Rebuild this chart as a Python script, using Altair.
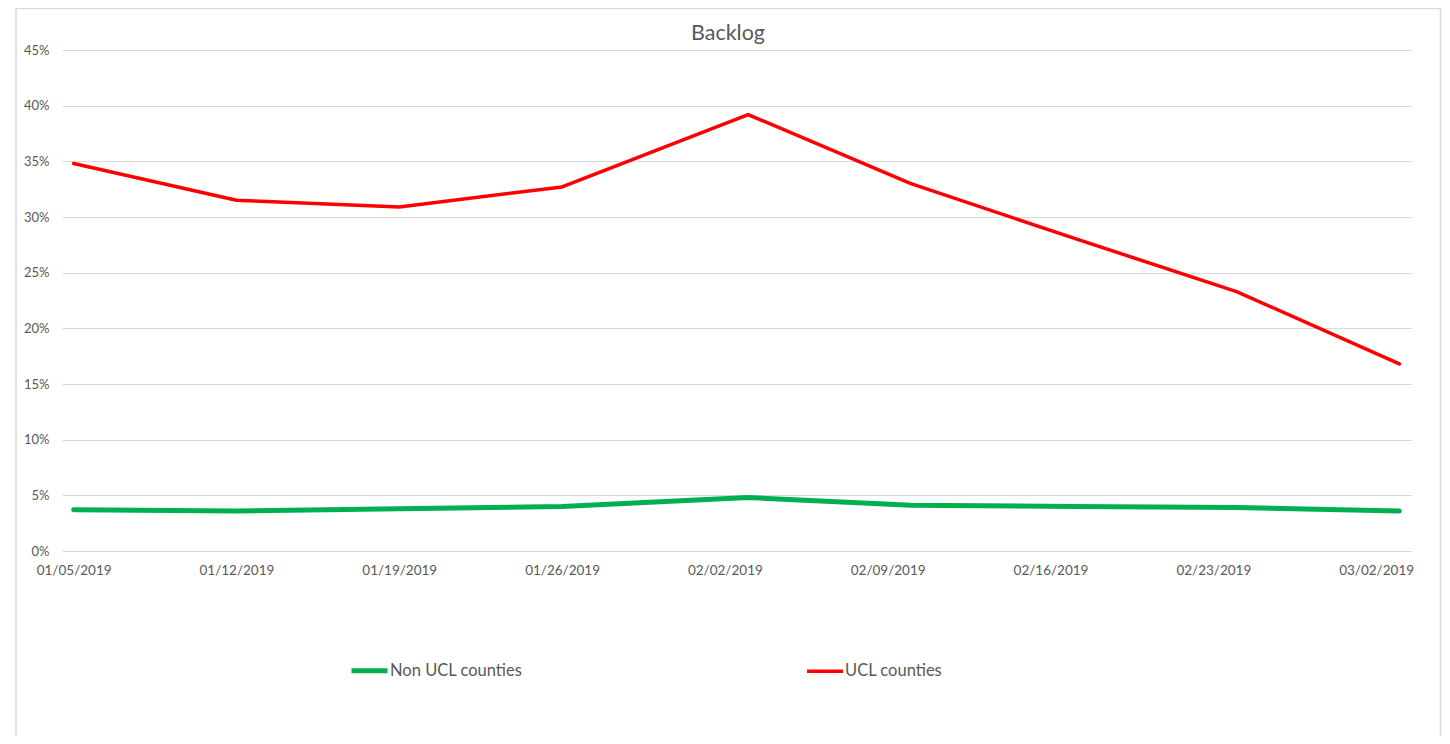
import altair as alt
import pandas as pd

# ---- data ----
dates = ["2019-01-05", "2019-01-12", "2019-01-19", "2019-01-26", "2019-02-03",
         "2019-02-10", "2019-02-17", "2019-02-24", "2019-03-03"]
non_ucl = [3.7, 3.6, 3.8, 4.0, 4.8, 4.1, 4.0, 3.9, 3.6]          # percent
ucl = [34.8, 31.5, 30.9, 32.7, 39.2, 33.0, 28.1, 23.3, 16.8]      # percent
series_names = ["Non UCL counties", "UCL counties"]
series_colors = ["#00B050", "#FF0000"]
series_widths = [5, 3.5]
tick_labels = ["01/05/2019", "01/12/2019", "01/19/2019", "01/26/2019", "02/02/2019",
               "02/09/2019", "02/16/2019", "02/23/2019", "03/02/2019"]
y_ticks = [0, 0.05, 0.10, 0.15, 0.20, 0.25, 0.30, 0.35, 0.40, 0.45]

rows = []
for d, a, b in zip(dates, non_ucl, ucl):
    rows.append({"date": d, "series": series_names[0], "value": a / 100})
    rows.append({"date": d, "series": series_names[1], "value": b / 100})
df = pd.DataFrame(rows)


def to_dt(lbl):
    m, d, y = lbl.split("/")
    return alt.DateTime(year=int(y), month=int(m), date=int(d), utc=True)


tick_values = [to_dt(t) for t in tick_labels]
first = dates[0].split("-")
last = dates[-1].split("-")
x_domain = [
    alt.DateTime(year=int(first[0]), month=int(first[1]), date=int(first[2]) - 1, hours=12, utc=True),
    alt.DateTime(year=int(last[0]), month=int(last[1]), date=int(last[2]), hours=12, utc=True),
]

FONT = "Lato"
GREY = "#595959"

lines = alt.Chart(df).mark_line(strokeCap="round", strokeJoin="round").encode(
    x=alt.X("date:T",
            scale=alt.Scale(type="utc", domain=x_domain),
            axis=alt.Axis(title=None, values=tick_values, format="%m/%d/%Y",
                          grid=False, domain=False, ticks=False,
                          labelPadding=12, labelFontSize=13.5, labelColor=GREY,
                          labelFont=FONT, labelOverlap=False)),
    y=alt.Y("value:Q",
            scale=alt.Scale(domain=[0, 0.45], nice=False),
            axis=alt.Axis(title=None, values=y_ticks, format=".0%",
                          grid=True, gridColor="#D9D9D9", gridWidth=1,
                          domain=False, ticks=False, labelPadding=13,
                          labelFontSize=13, labelColor=GREY, labelFont=FONT)),
    color=alt.Color("series:N",
                    scale=alt.Scale(domain=series_names, range=series_colors),
                    legend=alt.Legend(title=None)),
    strokeWidth=alt.StrokeWidth("series:N",
                                scale=alt.Scale(domain=series_names, range=series_widths),
                                legend=alt.Legend(title=None)),
)

frame = alt.Chart(pd.DataFrame({"f": [0]})).mark_rect(
    fill=None, stroke="#D9D9D9", strokeWidth=1.5
).encode(
    x=alt.value(-46), x2=alt.value(1378.5),
    y=alt.value(-41.5), y2=alt.value(720),
)

chart = alt.layer(frame, lines).properties(
    width=1349,
    height=501,
    autosize=alt.AutoSizeParams(type="none"),
    padding={"left": 54, "top": 42, "right": 31, "bottom": 185},
    title=alt.TitleParams("Backlog", fontSize=21.5, font=FONT, color=GREY,
                          fontWeight="normal", anchor="middle", dx=-8.5,
                          offset=-54, baseline="alphabetic"),
).configure_view(stroke=None).configure_legend(
    orient="none", legendX=287, legendY=600, direction="horizontal",
    symbolType="stroke", symbolSize=1296, labelOffset=0,
    labelFont=FONT, labelFontSize=16.5, labelColor=GREY,
    columnPadding=277, padding=0,
)

chart.save("out.html", embed_options={"renderer": "svg", "actions": False})
